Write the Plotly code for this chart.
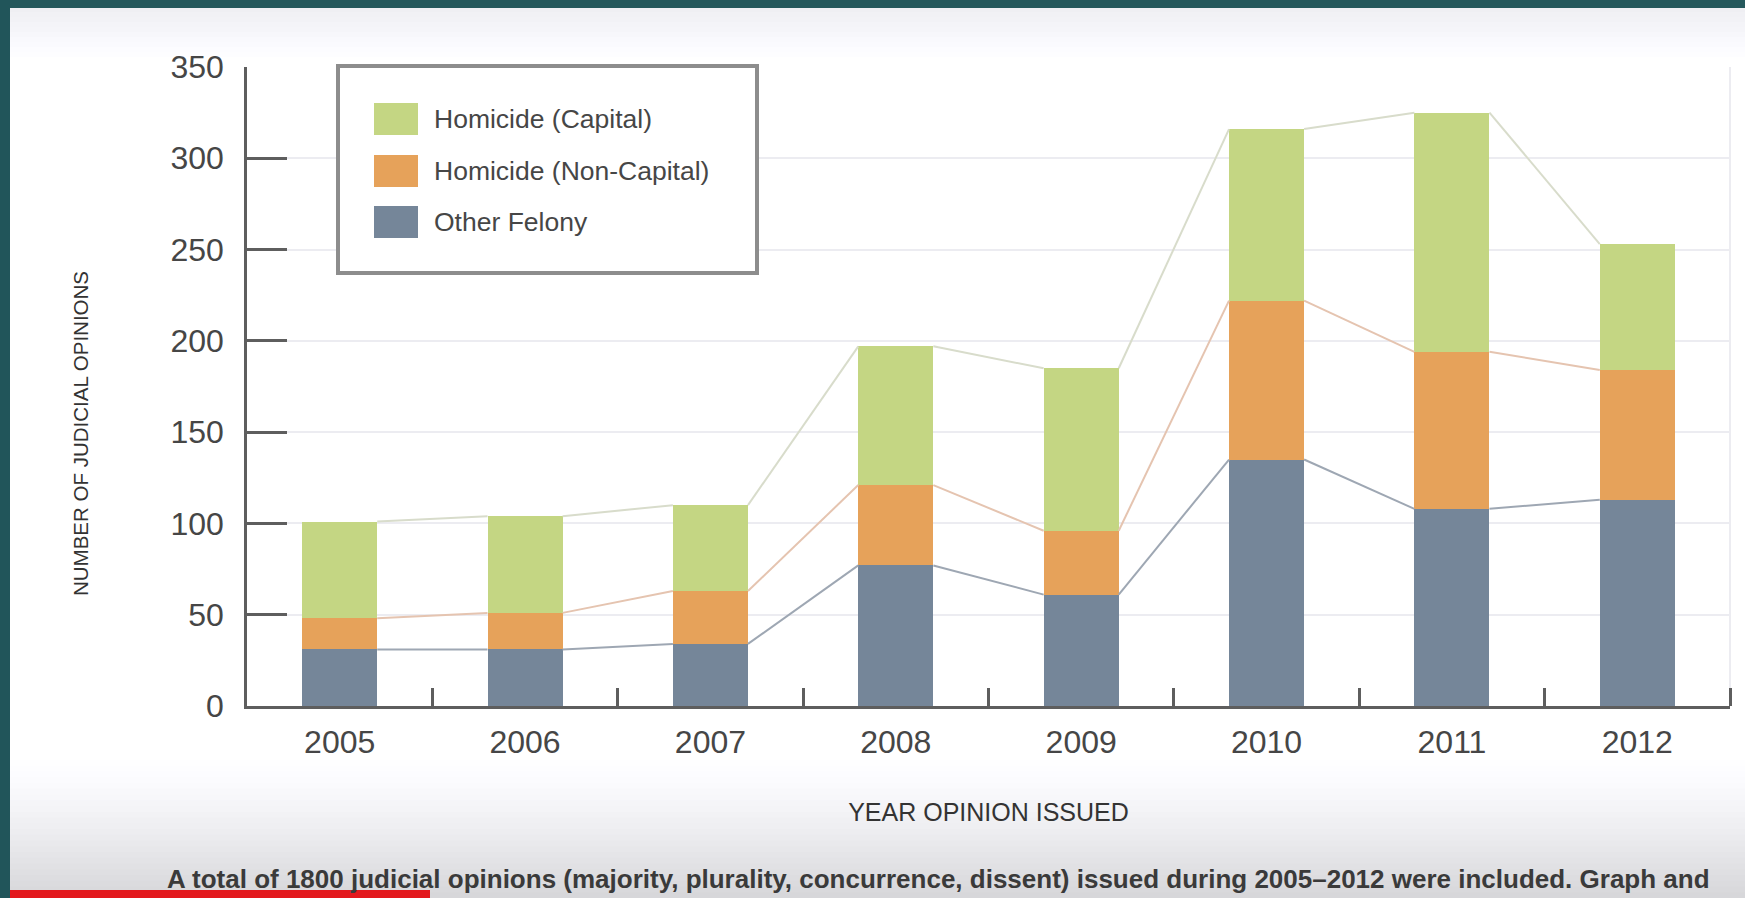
import numpy as np
import plotly.graph_objects as go

# ---------------- data ----------------
years = ["2005", "2006", "2007", "2008", "2009", "2010", "2011", "2012"]
other_felony = [31, 31, 34, 77, 61, 135, 108, 113]
homicide_noncapital = [17, 20, 29, 44, 35, 87, 86, 71]
homicide_capital = [53, 53, 47, 76, 89, 94, 131, 69]
series_names = ["Other Felony", "Homicide (Non-Capital)", "Homicide (Capital)"]
y_ticks = [0, 50, 100, 150, 200, 250, 300, 350]
y_title = "NUMBER OF JUDICIAL OPINIONS"
x_title = "YEAR OPINION ISSUED"
footnote = ("A total of 1800 judicial opinions (majority, plurality, concurrence, dissent) "
            "issued during 2005\u20132012 were included. Graph and")

# ---------------- styling ----------------
C_BLUE = "#758699"
C_ORANGE = "#e6a25a"
C_GREEN = "#c4d683"
L_BLUE = "#9ea7b3"
L_ORANGE = "#e5c4b0"
L_GREEN = "#d8dccb"
TXT = "#464646"
AX = "#5e5e5e"
FONT = "Liberation Sans, Arial, sans-serif"

W_FIG, H_FIG = 1745, 898
PL, PR, PT, PB = 247, 1730, 67, 706
PW, PH = PR - PL, PB - PT
BAR_W = 0.405


def fx(px):
    return (px - PL) / PW


def fy(py):
    return (PB - py) / PH


xpos = np.arange(len(years))
colors = [C_BLUE, C_ORANGE, C_GREEN]
line_colors = [L_BLUE, L_ORANGE, L_GREEN]
stack = [np.array(other_felony), np.array(homicide_noncapital), np.array(homicide_capital)]

fig = go.Figure()
for name, vals, col in zip(series_names, stack, colors):
    fig.add_trace(go.Bar(x=xpos, y=vals, name=name, width=BAR_W,
                         marker=dict(color=col, line=dict(width=0)),
                         showlegend=False))

# connector lines between bar tops (cumulative levels)
cum = np.cumsum(np.vstack(stack), axis=0)
for level, lc in zip(cum, line_colors):
    lx, ly = [], []
    for i in range(len(years) - 1):
        lx += [xpos[i] + BAR_W / 2, xpos[i + 1] - BAR_W / 2, None]
        ly += [level[i], level[i + 1], None]
    fig.add_trace(go.Scatter(x=lx, y=ly, mode="lines", showlegend=False,
                             line=dict(color=lc, width=2), hoverinfo="skip"))

shapes = []


def rect(x0, y0, x1, y1, color, layer="below", line=None):
    d = dict(type="rect", xref="paper", yref="paper",
             x0=fx(x0), x1=fx(x1), y0=fy(y1), y1=fy(y0),
             fillcolor=color, layer=layer, line=dict(width=0))
    if line:
        d["line"] = line
    shapes.append(d)


# bottom gray gradient
n = 24
for k in range(n):
    t = (k + 1) / n
    c = int(round(255 - 40 * t ** 1.3))
    y0 = 760 + k * (898 - 760) / n
    y1 = 760 + (k + 1) * (898 - 760) / n
    rect(0, y0, W_FIG, y1 + 1, f"rgb({c},{c},{min(255, c + 3)})")
# top light gradient
n = 10
for k in range(n):
    t = 1 - k / n
    c = int(round(255 - 16 * t))
    y0 = 7 + k * 5
    rect(0, y0, W_FIG, y0 + 5, f"rgb({c},{c},{min(255, c + 4)})")
# teal frame
rect(0, 0, W_FIG, 8, "#25585c", layer="above")
rect(0, 0, 10, H_FIG, "#21555a", layer="above")
# red progress bar
rect(10, 890, 430, 898, "#e3181d", layer="above")
# faint right frame line
shapes.append(dict(type="line", xref="paper", yref="paper", x0=1, x1=1, y0=0, y1=1,
                   line=dict(color="#ececf1", width=2), layer="below"))

# legend box
rect(338, 66, 757, 273, "white", layer="above", line=dict(color="#8d8d8d", width=4))
leg_rows = [(119, C_GREEN, series_names[2]), (171, C_ORANGE, series_names[1]),
            (222, C_BLUE, series_names[0])]
annotations = []
for cy, col, label in leg_rows:
    rect(374, cy - 16, 418, cy + 16, col, layer="above")
    annotations.append(dict(xref="paper", yref="paper", x=fx(432), y=fy(cy),
                            xanchor="left", yanchor="middle", text=label, showarrow=False,
                            font=dict(family=FONT, size=26.5, color=TXT)))

# y-axis title
annotations.append(dict(xref="paper", yref="paper", x=fx(80), y=fy(434),
                        xanchor="center", yanchor="middle", text=y_title, textangle=-90,
                        showarrow=False, font=dict(family=FONT, size=20.5, color="#333333")))

# footnote
annotations.append(dict(xref="paper", yref="paper", x=fx(165), y=fy(879),
                        xanchor="left", yanchor="middle", text="<b>" + footnote + "</b>",
                        showarrow=False,
                        font=dict(family=FONT, size=26, color="#3a3a3a")))

fig.update_layout(
    width=W_FIG, height=H_FIG,
    margin=dict(l=PL, r=W_FIG - PR, t=PT, b=H_FIG - PB, autoexpand=False),
    paper_bgcolor="white", plot_bgcolor="rgba(0,0,0,0)",
    barmode="stack", bargap=0,
    shapes=shapes, annotations=annotations,
    font=dict(family=FONT, color=TXT),
    xaxis=dict(
        range=[-0.5, len(years) - 0.5], tickmode="array", tickvals=xpos, ticktext=years,
        ticks="", showgrid=False, zeroline=False,
        showline=True, linecolor=AX, linewidth=2.5,
        tickfont=dict(family=FONT, size=32, color=TXT), ticklabelstandoff=6,
        minor=dict(tickmode="array", tickvals=list(xpos + 0.5), ticks="inside",
                   ticklen=18, tickwidth=2.5, tickcolor=AX, showgrid=False),
        title=dict(text=x_title, font=dict(family=FONT, size=25, color="#333333"), standoff=45),
    ),
    yaxis=dict(
        range=[0, 350], tickmode="array", tickvals=y_ticks,
        ticks="inside", ticklen=40, tickwidth=2.5, tickcolor=AX,
        showgrid=True, gridcolor="#ececf1", gridwidth=2, zeroline=False,
        showline=True, linecolor=AX, linewidth=2.5,
        tickfont=dict(family=FONT, size=32, color=TXT), ticklabelstandoff=14,
    ),
)

fig.write_html(
    "out.html",
    config={"displayModeBar": False},
    post_script="document.body.style.margin='0';document.body.style.padding='0';"
                "document.body.style.overflow='hidden';",
)
